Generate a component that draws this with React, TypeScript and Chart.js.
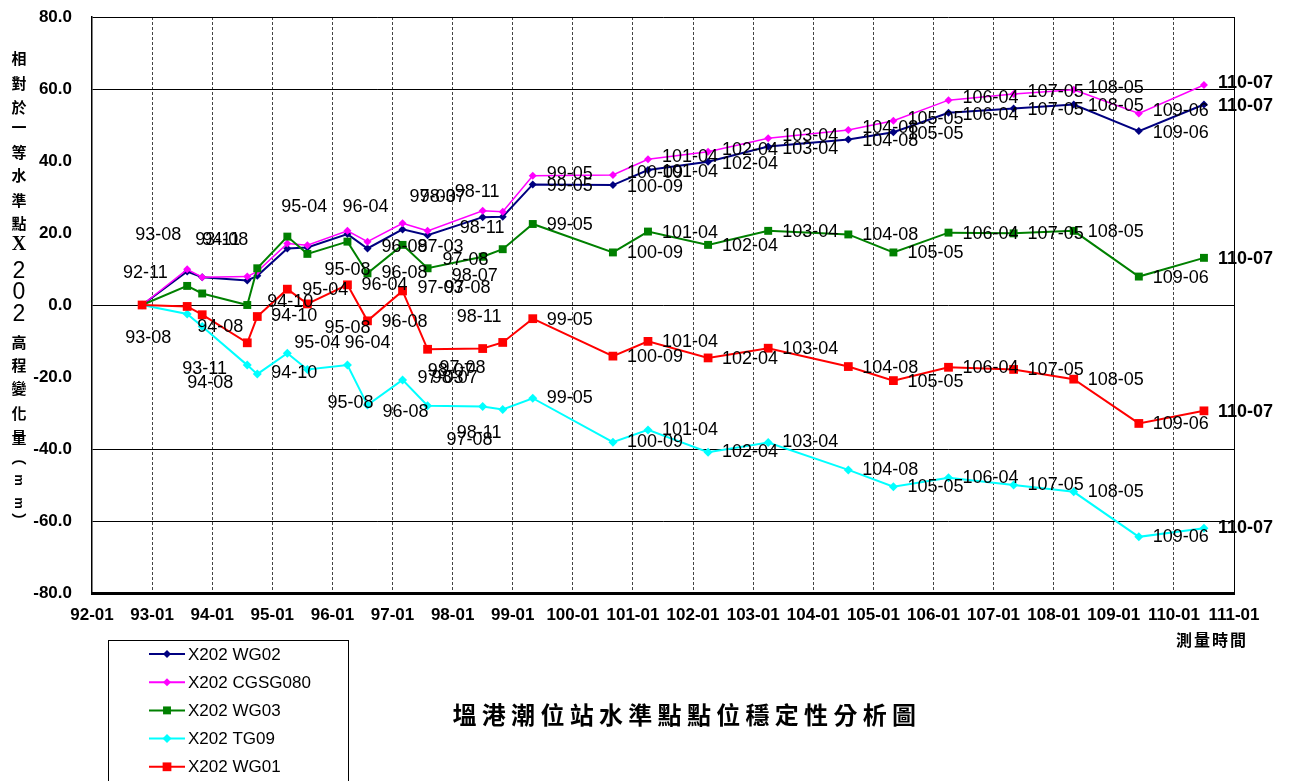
import React, { useEffect, useRef } from "react";
import { Chart, registerables } from "chart.js";

Chart.register(...registerables);

// ---------- data ----------
const surveyDates = [
  "92-11", "93-08", "93-11", "94-08", "94-10", "95-04", "95-08", "96-04", "96-08",
  "97-03", "97-08", "98-07", "98-11", "99-05", "100-09", "101-04", "102-04", "103-04",
  "104-08", "105-05", "106-04", "107-05", "108-05", "109-06", "110-07",
];

const seriesNames = ["X202 WG02", "X202 CGSG080", "X202 WG03", "X202 TG09", "X202 WG01"];

const wg02 = [0, 9.3, 7.7, 6.8, 8.1, 15.7, 16.0, 19.7, 15.7, 21.0, 19.4, 24.4, 24.5, 33.5, 33.3, 37.5, 39.8, 44.0, 46.0, 48.0, 53.4, 54.6, 55.7, 48.3, 55.7];
const cgsg080 = [0, 9.9, 7.7, 7.9, 9.3, 17.1, 16.6, 20.6, 17.6, 22.7, 20.6, 26.2, 25.9, 35.9, 36.1, 40.5, 42.6, 46.3, 48.6, 51.2, 56.9, 58.6, 59.8, 53.2, 61.1];
const wg03 = [0, 5.3, 3.2, 0, 10.2, 19.0, 14.2, 17.6, 8.8, 16.7, 10.2, 13.4, 15.5, 22.5, 14.6, 20.4, 16.7, 20.6, 19.6, 14.6, 20.1, 19.9, 20.6, 7.9, 13.1];
const tg09 = [0, -2.5, -6.0, -16.7, -19.2, -13.4, -17.9, -16.7, -27.8, -20.8, -28.0, -28.2, -29.0, -25.9, -38.1, -34.7, -40.9, -38.2, -45.8, -50.5, -48.0, -50.0, -51.9, -64.4, -62.0];
const wg01 = [0, -0.4, -2.7, -10.5, -3.2, 4.4, 0.3, 5.6, -4.4, 3.9, -12.3, -12.1, -10.4, -3.8, -14.2, -10.1, -14.7, -12.0, -17.1, -21.0, -17.3, -17.9, -20.6, -32.9, -29.4];

const firstYear = 92;
const lastYear = 111;
const yMin = -80;
const yMax = 80;
const solidGridValues = [80, 60, 0, -40, -60];

const chartTitle = "塭港潮位站水準點點位穩定性分析圖";
const xAxisTitle = "測量時間";
const yTitleChars = ["相", "對", "於", "一", "等", "水", "準", "點", "X", "2", "0", "2", "高", "程", "變", "化", "量", "︵", "m", "m", "︶"];

// ---------- styles ----------
const colors = ["#000080", "#FF00FF", "#008000", "#00FFFF", "#FF0000"];
const pointStyles = ["rectRot", "rectRot", "rect", "rectRot", "rect"];
const pointRadii = [4, 4, 5.6, 4.5, 6.2];
const lineWidths = [2, 1.5, 2, 2, 2];
const seriesValues = [wg02, cgsg080, wg03, tg09, wg01];

// label placement: the early labels were moved by hand in the original
const earlyCount = 13;
const defaultLabelDy = [2, -2, 1, 0, 1];
const earlyLabelOffsets: Record<number, [number, number]>[] = [
  { 8: [14, -1], 9: [15, 18], 10: [15, 25], 11: [-31, 59], 12: [-43, 11] },
  { 0: [-19, -32], 1: [-52, -34], 2: [-7, -37], 3: [-45, -37], 5: [-6, -36], 7: [-5, -24], 9: [7, -26], 11: [-63, -14], 12: [-48, -20] },
  { 4: [10, 34], 5: [15, 53], 6: [17, 16], 7: [14, 43], 8: [14, 0], 9: [15, 43], 10: [17, 20] },
  { 1: [-62, 24], 2: [-20, 42], 3: [-60, 18], 4: [14, -1], 5: [7, -10], 6: [20, 34], 7: [-3, -22], 8: [15, 7], 9: [15, -2], 10: [19, 34], 11: [-55, -35], 12: [-46, 24] },
  { 3: [-50, -16], 4: [14, 0], 6: [17, 24], 8: [14, 1], 10: [12, 19], 11: [-51, 29], 12: [-46, -25] },
];

const FONT = "'Liberation Sans', Arial, sans-serif";
const CJK = "'Noto Sans CJK TC', 'Noto Sans CJK SC', sans-serif";

const toMonths = (d: string) => {
  const [y, m] = d.split("-").map(Number);
  return y * 12 + (m - 1);
};

function drawMarker(ctx: CanvasRenderingContext2D, style: string, x: number, y: number, r: number, color: string) {
  ctx.fillStyle = color;
  ctx.beginPath();
  if (style === "rect") {
    const s = r * Math.SQRT1_2;
    ctx.rect(x - s, y - s, 2 * s, 2 * s);
  } else {
    ctx.moveTo(x, y - r);
    ctx.lineTo(x + r, y);
    ctx.lineTo(x, y + r);
    ctx.lineTo(x - r, y);
    ctx.closePath();
  }
  ctx.fill();
}

const decorPlugin = {
  id: "decor",
  afterDatasetsDraw(chart: any) {
    const ctx: CanvasRenderingContext2D = chart.ctx;
    ctx.save();
    ctx.fillStyle = "#000";
    ctx.textBaseline = "middle";
    ctx.textAlign = "left";
    chart.data.datasets.forEach((_ds: any, si: number) => {
      const meta = chart.getDatasetMeta(si);
      meta.data.forEach((pt: any, i: number) => {
        let off = earlyLabelOffsets[si][i];
        if (!off) {
          if (i < earlyCount) return;
          off = [14, defaultLabelDy[si]];
        }
        const last = i === surveyDates.length - 1;
        ctx.font = `${last ? "bold " : ""}18px ${FONT}`;
        ctx.fillText(surveyDates[i], pt.x + off[0], pt.y + off[1]);
      });
    });
    ctx.restore();
  },
  afterDraw(chart: any) {
    const ctx: CanvasRenderingContext2D = chart.ctx;
    const area = chart.chartArea;
    ctx.save();
    // right border of plot area
    ctx.strokeStyle = "#000";
    ctx.lineWidth = 1;
    ctx.beginPath();
    ctx.moveTo(Math.round(area.right) + 0.5, area.top);
    ctx.lineTo(Math.round(area.right) + 0.5, area.bottom);
    ctx.stroke();

    // y axis title (vertical, stacked)
    const yPos = [58, 83, 107, 127, 152, 175, 200, 223, 245, 272, 293, 315, 342, 365, 388, 413, 437, 457, 480, 503, 520];
    ctx.fillStyle = "#000";
    ctx.textAlign = "center";
    ctx.textBaseline = "middle";
    yTitleChars.forEach((ch, i) => {
      const x = 19;
      const y = yPos[i];
      if (ch === "X") {
        ctx.font = `bold 20px 'Liberation Serif', serif`;
        ctx.fillText(ch, x, y);
      } else if (/[0-9]/.test(ch)) {
        ctx.font = `23px ${FONT}`;
        ctx.fillText(ch, x, y);
      } else if (ch === "m") {
        ctx.save();
        ctx.translate(x, y);
        ctx.rotate(Math.PI / 2);
        ctx.font = `bold 13px ${FONT}`;
        ctx.fillText(ch, 0, 0);
        ctx.restore();
      } else {
        ctx.font = `bold 15px ${CJK}`;
        ctx.fillText(ch, x, y);
      }
    });

    // x axis title
    ctx.font = `bold 16px ${CJK}`;
    Array.from(xAxisTitle).forEach((ch, i) => ctx.fillText(ch, 1184 + i * 18, 640));

    // chart title
    ctx.font = `bold 24px ${CJK}`;
    Array.from(chartTitle).forEach((ch, i) => ctx.fillText(ch, 464.5 + i * 29.3, 715));

    // legend
    ctx.strokeStyle = "#000";
    ctx.lineWidth = 1;
    ctx.strokeRect(108.5, 640.5, 240, 200);
    ctx.textAlign = "left";
    ctx.font = `17px ${FONT}`;
    seriesNames.forEach((name, i) => {
      const y = 654 + i * 28.2;
      ctx.strokeStyle = colors[i];
      ctx.lineWidth = 2;
      ctx.beginPath();
      ctx.moveTo(149, y);
      ctx.lineTo(185, y);
      ctx.stroke();
      drawMarker(ctx, pointStyles[i], 167, y, pointRadii[i], colors[i]);
      ctx.fillStyle = "#000";
      ctx.fillText(name, 188, y + 1);
    });
    ctx.restore();
  },
};

export default function App() {
  const ref = useRef<HTMLCanvasElement | null>(null);

  useEffect(() => {
    document.body.style.margin = "0";
    document.body.style.background = "#fff";
    const canvas = ref.current;
    if (!canvas) return;
    const xs = surveyDates.map(toMonths);
    const chart = new Chart(canvas, {
      type: "line",
      data: {
        datasets: seriesValues.map((vals, si) => ({
          label: seriesNames[si],
          data: vals.map((v, i) => ({ x: xs[i], y: v })),
          borderColor: colors[si],
          backgroundColor: colors[si],
          borderWidth: lineWidths[si],
          pointStyle: pointStyles[si] as any,
          pointRadius: pointRadii[si],
          pointBackgroundColor: colors[si],
          pointBorderColor: colors[si],
          pointBorderWidth: 0,
          tension: 0,
          fill: false,
          order: 4 - si,
          clip: false as any,
        })),
      },
      options: {
        animation: false,
        responsive: false,
        events: [],
        layout: { padding: { top: 17, right: 56, bottom: 148, left: 0 } },
        plugins: { legend: { display: false }, tooltip: { enabled: false }, title: { display: false } },
        scales: {
          x: {
            type: "linear",
            min: firstYear * 12,
            max: lastYear * 12,
            afterFit: (s: any) => { s.height = 40; },
            ticks: {
              stepSize: 12,
              autoSkip: false,
              maxRotation: 0,
              padding: 12,
              color: "#000",
              font: { family: FONT, size: 17, weight: "bold" },
              callback: (v: any) => `${Math.round(Number(v) / 12)}-01`,
            },
            grid: {
              drawTicks: false,
              lineWidth: 1,
              color: (c: any) => {
                const v = c.tick ? c.tick.value : null;
                if (v === null || v <= firstYear * 12 || v >= lastYear * 12) return "rgba(0,0,0,0)";
                return "#444";
              },
            },
            border: { display: true, color: "#000", width: 3, dash: [3, 2] },
          },
          y: {
            type: "linear",
            min: yMin,
            max: yMax,
            afterFit: (s: any) => { s.width = 92; },
            ticks: {
              stepSize: 20,
              padding: 0,
              color: "#000",
              font: { family: FONT, size: 17, weight: "bold" },
              callback: (v: any) => Number(v).toFixed(1),
            },
            grid: {
              drawTicks: true,
              tickLength: 20,
              tickColor: "rgba(0,0,0,0)",
              lineWidth: 1,
              color: (c: any) => {
                const v = c.tick ? c.tick.value : null;
                return v !== null && solidGridValues.includes(v) ? "#000" : "rgba(0,0,0,0)";
              },
            },
            border: { display: true, color: "#000", width: 1.5 },
          },
        },
      },
      plugins: [decorPlugin],
    } as any);
    return () => chart.destroy();
  }, []);

  return (
    <div style={{ width: 1290, height: 781, position: "relative", background: "#fff" }}>
      <canvas ref={ref} width={1290} height={781} />
    </div>
  );
}
